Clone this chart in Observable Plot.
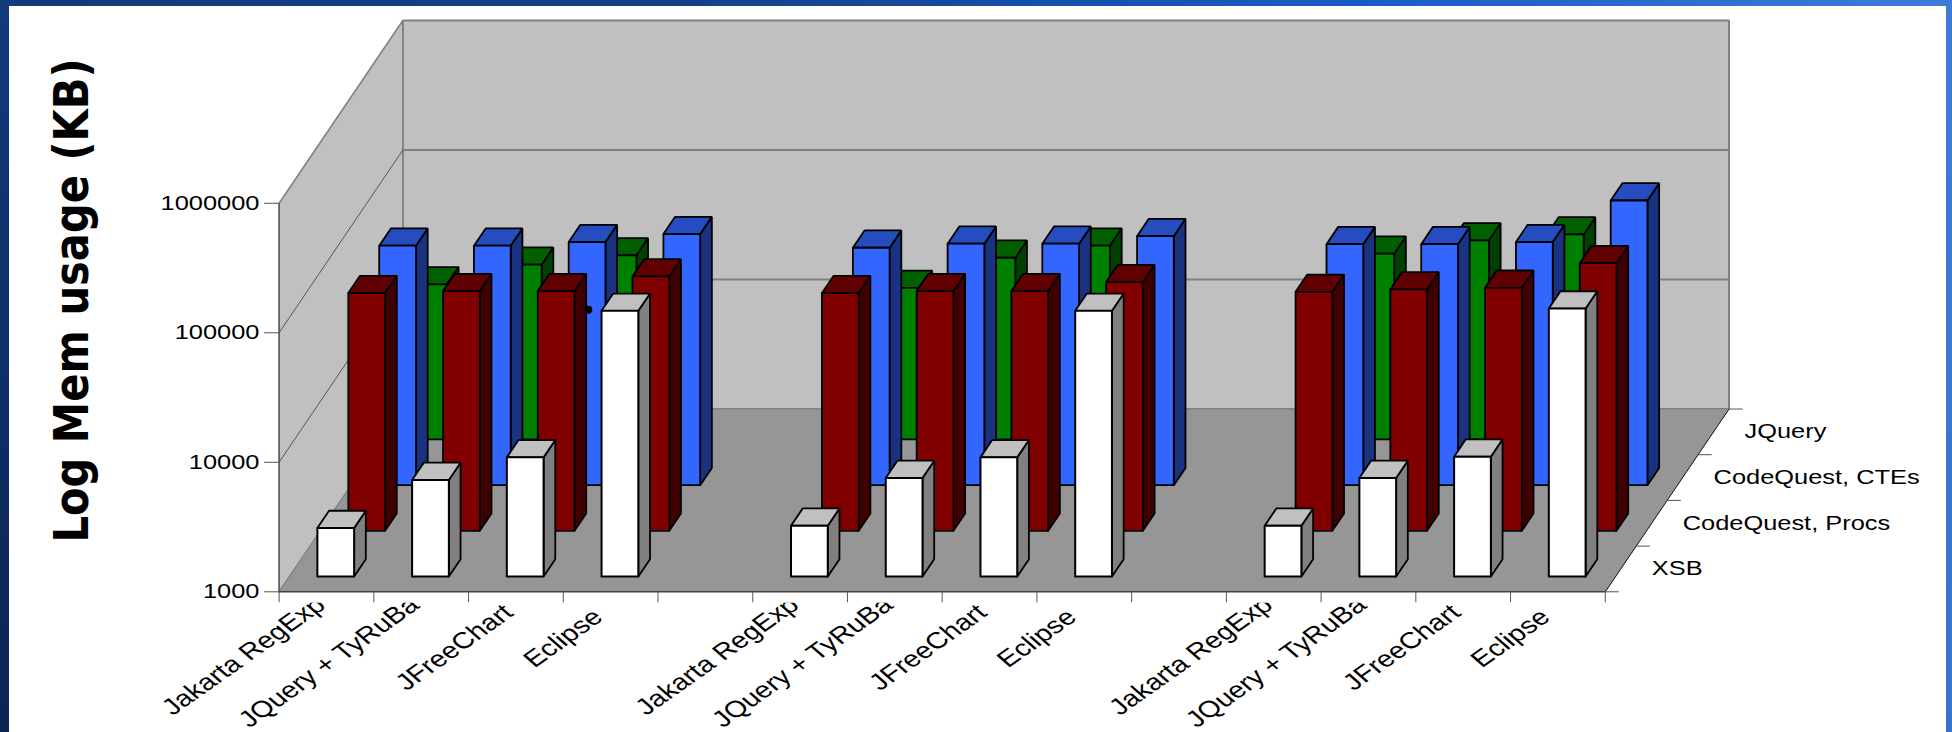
<!DOCTYPE html>
<html>
<head>
<meta charset="utf-8">
<script src="https://cdn.jsdelivr.net/npm/d3@7"></script>
<script src="https://cdn.jsdelivr.net/npm/@observablehq/plot@0.6"></script>
<style>
  html, body { margin: 0; padding: 0; width: 1952px; height: 732px; overflow: hidden; background: #fff; }
  #top { position: absolute; left: 0; top: 0; width: 1952px; height: 6px; background: linear-gradient(to right, #123a7c, #14408a 35%, #1a5cc6 70%, #3f7cd8); }
  #left { position: absolute; left: 0; top: 0; width: 9px; height: 732px; background: linear-gradient(to bottom, #123a7c, #0c2452); }
  #right { position: absolute; right: 0; top: 0; width: 6px; height: 732px; background: linear-gradient(to bottom, #3f7cd8, #3a72cc); }
  #chart { position: absolute; left: 9px; top: 6px; }
</style>
</head>
<body>
<div id="top"></div><div id="left"></div><div id="right"></div>
<div id="chart"></div>
<script>
// Benchmarks along the floor; empty slots separate the three groups.
const categories = [
  "Jakarta RegExp", "JQuery + TyRuBa", "JFreeChart", "Eclipse", "",
  "Jakarta RegExp", "JQuery + TyRuBa", "JFreeChart", "Eclipse", "",
  "Jakarta RegExp", "JQuery + TyRuBa", "JFreeChart", "Eclipse"
];
// Systems, front to back.
const systems = ["XSB", "CodeQuest, Procs", "CodeQuest, CTEs", "JQuery"];

// Memory in KB per category slot (null: no bar).
const xsb = [2370, 5570, 8320, 112600, null, 2470, 5770, 8320, 112600, null, 2470, 5770, 8430, 117300];
const procs = [68500, 71000, 71000, 92100, null, 68500, 71000, 71000, 83300, null, 70100, 73200, 75300, 116700];
const ctes = [70600, 70600, 75300, 86800, null, 68100, 73200, 73200, 83700, null, 72600, 72600, 75300, 157800];
const jquery = [15770, 22380, 26400, null, null, 14790, 25300, 31400, null, null, 27200, 34500, 38300, null];

const valueTicks = [1000, 10000, 100000, 1000000];
const strayDot = [{cat: 3.264, kb: 150400}];

// Face colours per system: front, top, side.
const shades = [
  ["#ffffff", "#c0c0c0", "#808080"],
  ["#800000", "#600000", "#400000"],
  ["#3366ff", "#264dbf", "#1a3380"],
  ["#008000", "#006000", "#004000"]
];
const series = [xsb, procs, ctes, jquery];

// Oblique projection: each depth slot shifts right (in category units)
// and up (in decades of the value axis).
const shiftX = 0.3265, shiftDecades = 0.3528;
const px = (cat, depth) => cat + depth * shiftX;
const py = (kb, depth) => kb * 10 ** (depth * shiftDecades);
const vertex = (group, cat, depth, kb) => ({group, x: px(cat, depth), y: py(kb, depth)});
const nCats = categories.length, nDepth = systems.length;
const base = 1000, ceiling = 1000000;

// Turn a list of [cat, depth, kb] corners into a closed ring.
const ring = (group, corners) => [...corners, corners[0]].map(([c, d, k]) => vertex(group, c, d, k));
const poly = (rows, fill, extra = {}) =>
  Plot.line(rows, {x: "x", y: "y", z: "group", fill, stroke: "#000", strokeWidth: 1.8, strokeLinejoin: "miter", curve: "linear", ...extra});

// Room, back to front: back wall, side wall, floor.
const wallStyle = {stroke: "#808080", strokeWidth: 2};
const room = [
  poly(ring("back", [[0, nDepth, base], [nCats, nDepth, base], [nCats, nDepth, ceiling], [0, nDepth, ceiling]]), "#c0c0c0", wallStyle),
  poly(ring("side", [[0, 0, base], [0, nDepth, base], [0, nDepth, ceiling], [0, 0, ceiling]]), "#c0c0c0", {stroke: "#808080", strokeWidth: 1.5}),
  poly(ring("floor", [[0, 0, base], [nCats, 0, base], [nCats, nDepth, base], [0, nDepth, base]]), "#969696", {stroke: "#808080", strokeWidth: 1})
];
const gridTicks = valueTicks.slice(1, 3);
const backGrid = gridTicks.flatMap((k) => [vertex(k, 0, nDepth, k), vertex(k, nCats, nDepth, k)]);
const sideGrid = gridTicks.flatMap((k) => [vertex(k, 0, 0, k), vertex(k, 0, nDepth, k)]);
const frontEdge = [vertex("f", 0, 0, base), vertex("f", nCats, 0, base), vertex("f", nCats, nDepth, base)];
const postEdge = [vertex("p", 0, 0, base), vertex("p", 0, 0, ceiling)];

// Depth ticks stick out past the right edge of the floor.
const depthTickLen = 0.14;
const depthTicks = d3.range(nDepth + 1).flatMap((d) => [
  {group: d, x: px(nCats, d), y: py(base, d)},
  {group: d, x: px(nCats, d) + depthTickLen, y: py(base, d)}
]);

// Bar footprint inside its category and depth slot.
const barLeft = 0.295, barWidth = 0.388, barFront = 0.334, barDepth = 0.378;
const barMarks = d3.range(nDepth - 1, -1, -1).flatMap((s) => {
  const front = [], top = [], side = [];
  series[s].forEach((kb, i) => {
    if (kb == null) return;
    const x0 = i + barLeft, x1 = x0 + barWidth, d0 = s + barFront, d1 = d0 + barDepth;
    front.push(...ring(`${i}`, [[x0, d0, base], [x1, d0, base], [x1, d0, kb], [x0, d0, kb]]));
    top.push(...ring(`${i}`, [[x0, d0, kb], [x1, d0, kb], [x1, d1, kb], [x0, d1, kb]]));
    side.push(...ring(`${i}`, [[x1, d0, base], [x1, d1, base], [x1, d1, kb], [x1, d0, kb]]));
  });
  return [poly(side, shades[s][2]), poly(top, shades[s][1]), poly(front, shades[s][0], s === 0 ? {strokeWidth: 2} : {})];
});
// The stray dot lies above the red row and behind the white one.
const whiteFaces = barMarks.slice(-3);
const tallerRows = barMarks.slice(0, -3);

// Where each rotated label ends, relative to its category centre:
// across in category units, down in decades below the floor line.
const labelEnd = {
  "Jakarta RegExp": [-0.061, 0.074],
  "JQuery + TyRuBa": [-0.07, 0.075],
  "JFreeChart": [-0.077, 0.133],
  "Eclipse": [-0.133, 0.168]
};
const labelRows = categories.map((name, i) => ({name, i})).filter((d) => d.name);

const chart = Plot.plot({
  width: 1937,
  height: 726,
  marginLeft: 269.6,
  marginRight: 217.5,
  marginTop: 14,
  marginBottom: 140.7,
  style: {background: "transparent", overflow: "visible", fontFamily: "'Liberation Sans', Arial, sans-serif"},
  x: {domain: [0, nCats + nDepth * shiftX]},
  y: {type: "log", domain: [base, ceiling * 10 ** (nDepth * shiftDecades)]},
  marks: [
    ...room,
    Plot.line(backGrid, {x: "x", y: "y", z: "group", stroke: "#808080", strokeWidth: 2}),
    Plot.line(sideGrid, {x: "x", y: "y", z: "group", stroke: "#555", strokeWidth: 1}),
    Plot.line(postEdge, {x: "x", y: "y", z: "group", stroke: "#444", strokeWidth: 1}),
    Plot.line(frontEdge, {x: "x", y: "y", z: "group", stroke: "#222", strokeWidth: 1}),
    Plot.line(depthTicks, {x: "x", y: "y", z: "group", stroke: "#555", strokeWidth: 1}),
    Plot.axisX({ticks: d3.range(nCats + 1), tickSize: 11, tickFormat: () => "", stroke: "#555", label: null}),
    Plot.axisY({ticks: valueTicks, tickSize: 14.6, tickPadding: 5, tickFormat: "d", fontSize: 20, stroke: "#555", fill: "#000", label: null}),
    ...tallerRows,
    Plot.dot(strayDot, {x: "cat", y: "kb", r: 4, fill: "#000", stroke: "none"}),
    ...whiteFaces,
    Plot.text(labelRows, {
      x: (d) => d.i + 0.5 + labelEnd[d.name][0],
      y: (d) => base * 10 ** -labelEnd[d.name][1],
      text: "name", rotate: -42, textAnchor: "end", fontSize: 23, fill: "#000"
    }),
    Plot.text(systems, {
      x: (d, i) => px(nCats, i + 0.5), y: (d, i) => py(base, i + 0.5), text: (d) => d, dx: 31,
      textAnchor: "start", fontSize: 20, fill: "#000"
    }),
    Plot.text(["Log Mem usage (KB)"], {
      frameAnchor: "left", dx: -206.6, dy: -5.6, text: (d) => d, rotate: -90, textAnchor: "middle",
      fontFamily: "'DejaVu Sans'", fontWeight: "bold", fontSize: 38, fill: "#000"
    })
  ]
});
document.getElementById("chart").append(chart);

// Text is set wide: stretch every label horizontally about its own anchor.
const stretch = 1.27;
const svg = d3.select(chart);
svg.selectAll("text").each(function () {
  const t = this.getAttribute("transform") || "";
  if (t.includes("rotate")) this.setAttribute("transform", t.replace("rotate", `scale(${stretch},1) rotate`));
  else if (t) this.setAttribute("transform", `${t} scale(${stretch},1)`);
  if (this.textContent === "Log Mem usage (KB)") {
    this.setAttribute("textLength", 484);
    this.setAttribute("lengthAdjust", "spacingAndGlyphs");
  }
});

// Category labels are cut off where they run into the tick zone.
const clipY = chart.scale("y").apply(base) + 11;
svg.append("defs").append("clipPath").attr("id", "label-clip")
  .append("rect").attr("x", -200).attr("y", clipY).attr("width", 2400).attr("height", 400);
const labelSet = new Set(categories);
svg.selectAll("text").filter(function () { return labelSet.has(this.textContent) && this.textContent; }).each(function () {
  this.parentNode.setAttribute("clip-path", "url(#label-clip)");
});
</script>
</body>
</html>
